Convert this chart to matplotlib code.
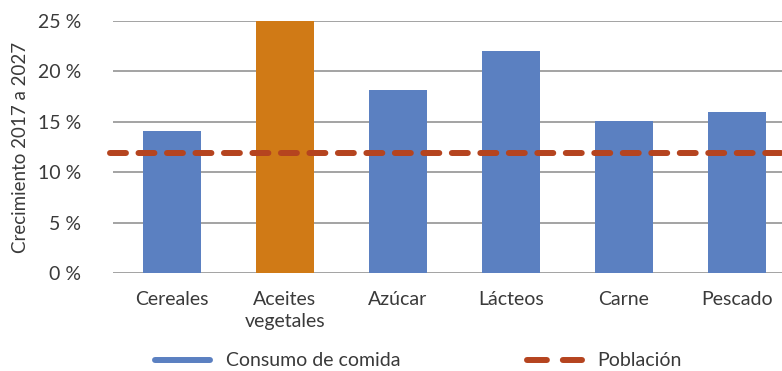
import matplotlib
import matplotlib.pyplot as plt
from matplotlib.lines import Line2D

matplotlib.use('Agg')
plt.rcParams['font.family'] = ['Lato', 'DejaVu Sans']

categories = ['Cereales', 'Aceites\nvegetales', 'Azúcar', 'Lácteos', 'Carne', 'Pescado']
consumo = [14.1, 25.0, 18.15, 22.0, 15.1, 16.0]
poblacion = 11.9
yticks = [0, 5, 10, 15, 20, 25]

blue = '#5b80c1'
orange = '#d07a16'
red = '#b5441f'
txt = '#3a3a3a'
colors = [blue, orange, blue, blue, blue, blue]

fig = plt.figure(figsize=(7.82, 3.71), dpi=100)
ax = fig.add_axes([113 / 782, 1 - 273 / 371, 1 - 113 / 782, (273 - 21) / 371])

x = list(range(len(categories)))
ax.bar(x, consumo, width=0.51, color=colors, zorder=2)
ax.plot([-0.55, 5.4], [poblacion, poblacion], color=red, lw=4.3,
        dashes=(2.67, 2.1), dash_capstyle='round',
        clip_on=False, zorder=3)

ax.set_xlim(-0.522, 5.398)
ax.set_ylim(0, 25)
ax.set_yticks(yticks)
ax.set_yticklabels([f'{v} %' for v in yticks], fontsize=14, color=txt)
ax.set_xticks(x)
ax.set_xticklabels(categories, fontsize=14, color=txt, linespacing=1.38)
ax.tick_params(axis='x', length=0, pad=13)
ax.tick_params(axis='y', length=0, pad=23)
ax.grid(axis='y', color='#8a8a8a', lw=1.1, zorder=1)
for s in ax.spines.values():
    s.set_visible(False)
ax.set_ylabel('Crecimiento 2017 a 2027', fontsize=13.5, color=txt, labelpad=6)

# legend, two entries placed separately
h1 = Line2D([], [], color=blue, lw=4.3, solid_capstyle='round')
h2 = Line2D([], [], color=red, lw=4.3, dashes=(3.33, 2.67), dash_capstyle='round')
for h, lab, x0 in [(h1, 'Consumo de comida', 155 / 782), (h2, 'Población', 527 / 782)]:
    fig.legend([h], [lab], loc='center left', bbox_to_anchor=(x0, 1 - 361 / 371),
               frameon=False, fontsize=14, handlelength=2.83, handletextpad=0.8,
               borderpad=0, borderaxespad=0, labelcolor=txt)

fig.savefig('out.png', dpi=100)
